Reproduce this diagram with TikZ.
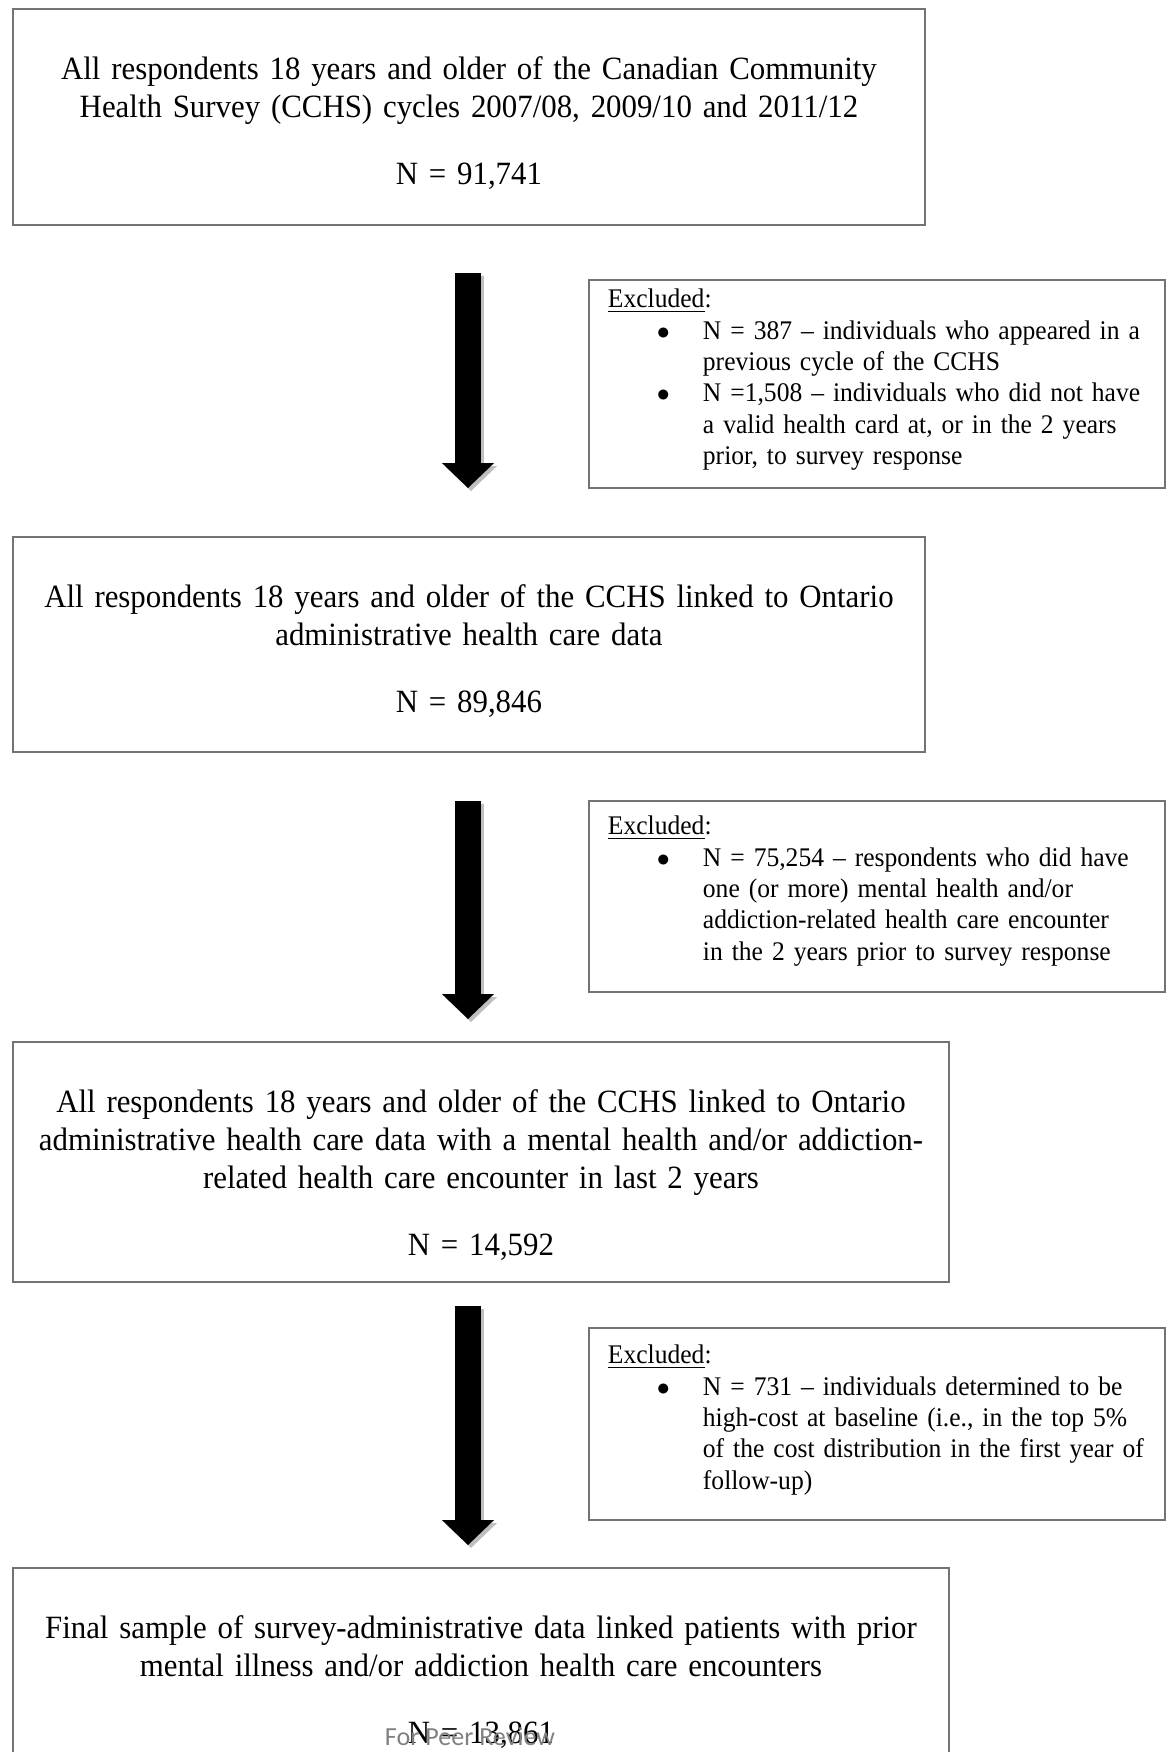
\documentclass[tikz,border=0pt]{standalone}
\usepackage{fontspec}
\setmainfont{Liberation Serif}[FakeStretch=0.95]
\newfontfamily\reviewfont{Carlito}
\usetikzlibrary{arrows.meta}

\newlength\pxlen
\setlength\pxlen{0.4217pt}
\newcommand\stagefont{\fontsize{13.7pt}{38\pxlen}\selectfont}
\newcommand\exclfont{\fontsize{11.35pt}{31.3\pxlen}\selectfont}

% bullet list of the exclusion boxes
\newenvironment{exclist}{%
  \begin{list}{$\bullet$}{%
    \setlength\leftmargin{95\pxlen}%
    \setlength\rightmargin{-40\pxlen}%
    \setlength\labelwidth{46\pxlen}%
    \setlength\labelsep{0pt}%
    \setlength\itemsep{0pt}%
    \setlength\parsep{0pt}%
    \setlength\topsep{0pt}%
    \setlength\partopsep{0pt}%
    \def\makelabel##1{##1\hfil}}}%
  {\end{list}}

\tikzset{>={Triangle[width=21.9pt,length=10.5pt,line width=0pt]}}
\tikzset{
  stagebox/.style={draw=black!55, line width=0.8pt, anchor=north west,
    inner sep=0pt, align=center, font=\stagefont, text height=71\pxlen},
  exclbox/.style={draw=black!55, line width=0.8pt, anchor=north west,
    inner xsep=19\pxlen, inner ysep=0pt, text width=538\pxlen,
    align=left, font=\exclfont},
  flowarrow/.style={->, line width=26\pxlen, draw=black},
  flowshadow/.style={->, line width=26\pxlen, draw=black!25,
    transform canvas={xshift=3\pxlen, yshift=-3\pxlen}},
}

\begin{document}
\begin{tikzpicture}[x=0.4217pt,y=-0.4217pt]
  % page frame
  \useasboundingbox (0,0) rectangle (1168,1752);
  \clip (0,0) rectangle (1168,1752);

  % spine of the arrows
  \coordinate (spine) at (468,0);

  % stage boxes
  \node[stagebox, text width=912\pxlen, text depth=145\pxlen] (cohort) at (12,8)
    {All respondents 18 years and older of the Canadian Community\\
     Health Survey (CCHS) cycles 2007/08, 2009/10 and 2011/12\\[29\pxlen]
     N = 91,741};
  \node[stagebox, text width=912\pxlen, text depth=144\pxlen] (linked) at (12,536)
    {All respondents 18 years and older of the CCHS linked to Ontario\\
     administrative health care data\\[29\pxlen]
     N = 89,846};
  \node[stagebox, text width=936\pxlen, text depth=169\pxlen] (mhencounter) at (12,1041)
    {All respondents 18 years and older of the CCHS linked to Ontario\\
     administrative health care data with a mental health and/or addiction-\\
     related health care encounter in last 2 years\\[29\pxlen]
     N = 14,592};
  \node[stagebox, text width=936\pxlen, text depth=220\pxlen] (finalsample) at (12,1567)
    {Final sample of survey-administrative data linked patients with prior\\
     mental illness and/or addiction health care encounters\\[29\pxlen]
     N = 13,861};

  % exclusion boxes
  \node[exclbox, text height=28\pxlen, text depth=180\pxlen] (exclcycle) at (588,279)
    {\underline{Excluded}:
     \begin{exclist}
       \item N = 387 – individuals who appeared in a\\
             previous cycle of the CCHS
       \item N =1,508 – individuals who did not have\\
             a valid health card at, or in the 2 years\\
             prior, to survey response
     \end{exclist}};
  \node[exclbox, text height=34\pxlen, text depth=157\pxlen] (exclmh) at (588,800)
    {\underline{Excluded}:
     \begin{exclist}
       \item N = 75,254 – respondents who did have\\
             one (or more) mental health and/or\\
             addiction-related health care encounter\\
             in the 2 years prior to survey response
     \end{exclist}};
  \node[exclbox, text height=36\pxlen, text depth=156\pxlen] (exclcost) at (588,1327)
    {\underline{Excluded}:
     \begin{exclist}
       \item N = 731 – individuals determined to be\\
             high-cost at baseline (i.e., in the top 5\%\\
             of the cost distribution in the first year of\\
             follow-up)
     \end{exclist}};

  % arrows between the stages
  \draw[flowshadow, shorten <=47\pxlen, shorten >=48\pxlen] (spine |- cohort.south) -- (spine |- linked.north);
  \draw[flowarrow, shorten <=47\pxlen, shorten >=48\pxlen] (spine |- cohort.south) -- (spine |- linked.north);
  \draw[flowshadow, shorten <=48\pxlen, shorten >=22\pxlen] (spine |- linked.south) -- (spine |- mhencounter.north);
  \draw[flowarrow, shorten <=48\pxlen, shorten >=22\pxlen] (spine |- linked.south) -- (spine |- mhencounter.north);
  \draw[flowshadow, shorten <=23\pxlen, shorten >=22\pxlen] (spine |- mhencounter.south) -- (spine |- finalsample.north);
  \draw[flowarrow, shorten <=23\pxlen, shorten >=22\pxlen] (spine |- mhencounter.south) -- (spine |- finalsample.north);

  % watermark
  \node[font=\reviewfont\fontsize{11pt}{12pt}\selectfont, text=black!50, anchor=base] (review) at (470,1745) {For Peer Review};
\end{tikzpicture}
\end{document}
